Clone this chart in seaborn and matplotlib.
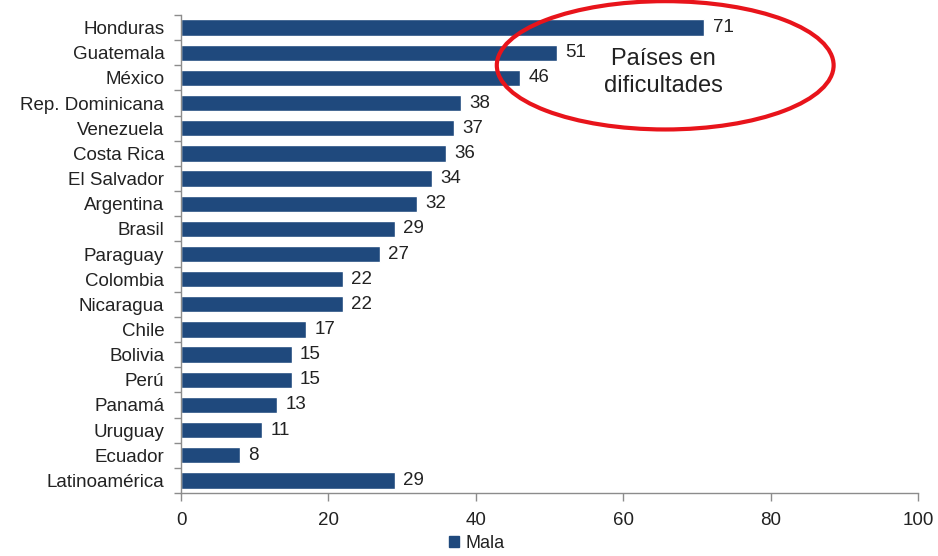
import matplotlib
matplotlib.use("Agg")
import matplotlib.pyplot as plt
import seaborn as sns
import pandas as pd
from matplotlib.patches import Ellipse, Patch

countries = ["Honduras", "Guatemala", "México", "Rep. Dominicana", "Venezuela",
             "Costa Rica", "El Salvador", "Argentina", "Brasil", "Paraguay",
             "Colombia", "Nicaragua", "Chile", "Bolivia", "Perú", "Panamá",
             "Uruguay", "Ecuador", "Latinoamérica"]
values = [71, 51, 46, 38, 37, 36, 34, 32, 29, 27, 22, 22, 17, 15, 15, 13, 11, 8, 29]
series_name = "Mala"
x_ticks = [0, 20, 40, 60, 80, 100]

sns.set_style("white")
plt.rcParams['font.family'] = ['Liberation Sans', 'DejaVu Sans']

BAR = "#1F497D"
TXT = "#222222"
AX = "#8C8C8C"
FS = 13.5

df = pd.DataFrame({"country": countries, "value": values})

fig = plt.figure(figsize=(9.38, 5.56), dpi=100)
ax = fig.add_axes([181/938, 1-493/556, (918-181)/938, (493-15)/556])

sns.barplot(data=df, x="value", y="country", orient="h", color=BAR,
            width=0.65, saturation=1, ax=ax)

ax.set_xlim(0, 100)
ax.set_ylim(len(countries)-0.5, -0.5)
ax.set_xticks(x_ticks)
ax.set_xlabel("")
ax.set_ylabel("")

for c in ax.containers:
    ax.bar_label(c, labels=[str(v) for v in values], padding=6,
                 fontsize=FS, color=TXT)

ax.tick_params(axis="y", which="major", left=True, length=0, labelsize=FS,
               labelcolor=TXT, pad=12)
ax.set_yticks([i - 0.5 for i in range(len(countries)+1)], minor=True)
ax.tick_params(axis="y", which="minor", left=True, length=5, color=AX, width=1)
ax.tick_params(axis="x", which="major", bottom=True, length=6, color=AX, width=1,
               labelsize=FS, labelcolor=TXT, pad=8)

for s in ["top", "right"]:
    ax.spines[s].set_visible(False)
for s in ["left", "bottom"]:
    ax.spines[s].set_color(AX)
    ax.spines[s].set_linewidth(1)

ell = Ellipse((65.7, 1.5), 45.7, 5.1, fill=False, edgecolor="#E8141B",
              linewidth=3, clip_on=False)
ax.add_patch(ell)
ax.text(65.4, 1.8, "Países en\ndificultades", ha="center", va="center",
        fontsize=17, color=TXT, linespacing=1.3)

handle = Patch(facecolor=BAR, edgecolor=BAR)
fig.legend([handle], [series_name], loc="center", bbox_to_anchor=(477/938, 1-543/556),
           frameon=False, fontsize=13, handlelength=0.55, handleheight=0.55,
           handletextpad=0.35, labelcolor=TXT)

fig.savefig("out.png", dpi=100)
